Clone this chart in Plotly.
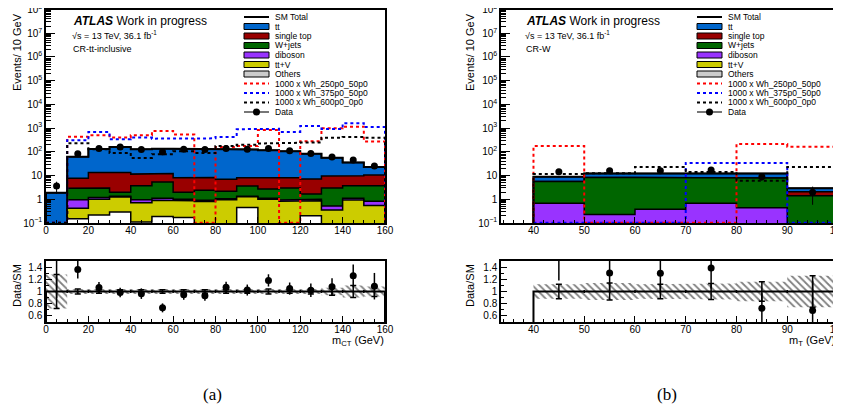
import plotly.graph_objects as go

# page is rendered with an 8px body margin; size the figure to fill the window
PAGE_W, PAGE_H, BODY_MARGIN = 841, 417, 8
W, H = PAGE_W - BODY_MARGIN, PAGE_H - BODY_MARGIN
FONT = "Liberation Sans"

# ---------------- Panel (a): CR-tt-inclusive, m_CT ----------------
edges_a = [0, 10, 20, 30, 40, 50, 60, 70, 80, 90, 100, 110, 120, 130, 140, 150, 160]
others_a = [0, 0.15, 0.22, 0.29, 0.11, 0.19, 0.17, 0, 0, 0.45, 0, 0, 0.2, 0, 0, 0]
ttv_a = [0, 0.27, 0.78, 0.96, 0.61, 0.71, 0.70, 0.8, 0.95, 0.83, 1.0, 0.82, 0.67, 0.35, 0.93, 0.55]
dib_a = [0, 0.53, 0.2, 0.1, 0.23, 0.2, 0.13, 0.1, 0.1, 0.05, 0.1, 0.11, 0.13, 0.17, 0.17, 0.27]
wjets_a = [0, 1.95, 1.8, 0.65, 2.75, 4.2, 1.0, 1.5, 1.15, 2.27, 1.6, 2.07, 0.65, 2.48, 2.6, 2.88]
stop_a = [0, 4.8, 10.5, 11.5, 7.8, 7.0, 6.0, 5.9, 4.8, 4.4, 4.9, 5.0, 5.55, 6.5, 6.1, 6.8]
ttbar_a = [1.9, 54, 117, 147, 117, 123, 127, 127, 123, 118, 110, 97, 76, 47, 26, 12.5]
data_a = [3.6, 84, 139, 158, 124, 99, 128, 126, 139, 129, 139, 110, 85, 61, 45, 25]
sig250_a = [0, 430, 500, 400, 500, 760, 540, 0, 160, 175, 830, 0, 280, 980, 1150, 270]
sig375_a = [0, 310, 690, 340, 400, 360, 360, 370, 427, 900, 930, 690, 1220, 920, 1600, 1120]
sig600_a = [0, 230, 130, 90, 55, 80, 105, 90, 175, 200, 225, 240, 250, 390, 420, 390]
mcerr_a = [0.28, 0.04, 0.03, 0.03, 0.03, 0.03, 0.03, 0.03, 0.03, 0.03, 0.04, 0.03, 0.04, 0.06, 0.10, 0.08]

# ---------------- Panel (b): CR-W, m_T ----------------
edges_b = [40, 50, 60, 70, 80, 90, 100]
others_b = [0, 0, 0, 0, 0, 0]
ttv_b = [0, 0, 0, 0, 0, 0]
dib_b = [0.68, 0.23, 0.38, 0.68, 0.44, 0]
wjets_b = [4.9, 8.0, 7.8, 7.5, 7.4, 1.4]
stop_b = [0, 0, 0, 0, 0, 0.7]
ttbar_b = [3.4, 3.9, 4.0, 4.1, 4.4, 0.8]
data_b = [14.4, 15.8, 15.8, 17.0, 8.9, 2.0]
sig250_b = [175, 0, 0, 0, 215, 165]
sig375_b = [0, 0, 0, 34, 34, 0]
sig600_b = [11.5, 12.5, 23, 14, 6, 23]
mcerr_b = [0.12, 0.14, 0.12, 0.13, 0.16, 0.26]

# ---------------- styling ----------------
C_TT = "#0066cc"
C_ST = "#990000"
C_W = "#006600"
C_DIB = "#9933ff"
C_TTV = "#cccc00"
C_OTH = "#cccccc"
C_OTH_STACK = "#ffffff"

FLOOR = 1e-3        # below the log axis: fills run off the bottom
SIG_FLOOR = 0.102   # empty signal bins drawn along the bottom edge, as ROOT does


def step_xy(edges, vals, floor):
    xs, ys = [edges[0]], [floor]
    for i, v in enumerate(vals):
        v = v if v > 0 else floor
        xs += [edges[i], edges[i + 1]]
        ys += [v, v]
    xs.append(edges[-1])
    ys.append(floor)
    return xs, ys


def cumsum(layers):
    out, run = [], [0.0] * len(layers[0])
    for lay in layers:
        run = [a + b for a, b in zip(run, lay)]
        out.append(run)
    return out


fig = go.Figure()


def add_panel(edges, layers, data, sigs, mcerr, xa, ya, xr, yr):
    colors = [C_OTH_STACK, C_TTV, C_DIB, C_W, C_ST, C_TT]
    cums = cumsum(layers)
    for cum, col in reversed(list(zip(cums, colors))):
        if max(cum) <= 0:
            continue
        xs, ys = step_xy(edges, cum, FLOOR)
        fig.add_trace(go.Scatter(x=xs, y=ys, mode="lines", fill="toself",
                                 fillcolor=col, line=dict(color="black", width=1.5),
                                 xaxis=xa, yaxis=ya, showlegend=False, hoverinfo="skip"))
    total = cums[-1]
    xs, ys = step_xy(edges, total, FLOOR)
    fig.add_trace(go.Scatter(x=xs, y=ys, mode="lines", line=dict(color="black", width=2),
                             xaxis=xa, yaxis=ya, showlegend=False, hoverinfo="skip"))
    for vals, col in zip(sigs, ["#ff0000", "#0000ff", "#000000"]):
        xs, ys = step_xy(edges, vals, SIG_FLOOR)
        fig.add_trace(go.Scatter(x=xs, y=ys, mode="lines",
                                 line=dict(color=col, width=2, dash="dot"),
                                 xaxis=xa, yaxis=ya, showlegend=False, hoverinfo="skip"))
    centers = [(edges[i] + edges[i + 1]) / 2 for i in range(len(data))]
    errs = [d ** 0.5 for d in data]
    fig.add_trace(go.Scatter(x=centers, y=data, mode="markers",
                             marker=dict(color="black", size=7),
                             error_y=dict(type="data", array=errs, color="black", thickness=1, width=0),
                             xaxis=xa, yaxis=ya, showlegend=False, hoverinfo="skip"))
    # ---- ratio ----
    up = [1 + e for e in mcerr]
    dn = [1 - e for e in mcerr]
    bx, by = [], []
    for i in range(len(up)):
        bx += [edges[i], edges[i + 1]]
        by += [up[i], up[i]]
    for i in reversed(range(len(dn))):
        bx += [edges[i + 1], edges[i]]
        by += [dn[i], dn[i]]
    fig.add_trace(go.Scatter(x=bx, y=by, mode="lines", fill="toself",
                             fillcolor="rgba(0,0,0,0)", line=dict(width=0),
                             fillpattern=dict(shape="\\", fgcolor="black", bgcolor="white",
                                              size=5, solidity=0.35),
                             xaxis=xr, yaxis=yr, showlegend=False, hoverinfo="skip"))
    ones = [1.0] * len(data)
    xs, ys = step_xy(edges, ones, 0.0)
    fig.add_trace(go.Scatter(x=xs, y=ys, mode="lines", line=dict(color="black", width=2),
                             xaxis=xr, yaxis=yr, showlegend=False, hoverinfo="skip"))
    fig.add_trace(go.Scatter(x=centers, y=ones, mode="markers", marker=dict(size=0.1, color="black"),
                             error_y=dict(type="data", array=mcerr, color="black", thickness=1.5, width=3),
                             xaxis=xr, yaxis=yr, showlegend=False, hoverinfo="skip"))
    fig.add_trace(go.Scatter(x=edges[1:-1], y=[1.0] * (len(edges) - 2), mode="markers",
                             marker=dict(size=0.1, color="black"),
                             error_y=dict(type="constant", value=0.025, color="black", thickness=1.5, width=0),
                             xaxis=xr, yaxis=yr, showlegend=False, hoverinfo="skip"))
    ratio = [d / t for d, t in zip(data, total)]
    rerr = [e / t for e, t in zip(errs, total)]
    fig.add_trace(go.Scatter(x=centers, y=ratio, mode="markers",
                             marker=dict(color="black", size=7),
                             error_y=dict(type="data", array=rerr, color="black", thickness=1.5, width=0),
                             xaxis=xr, yaxis=yr, showlegend=False, hoverinfo="skip"))


add_panel(edges_a, [others_a, ttv_a, dib_a, wjets_a, stop_a, ttbar_a], data_a,
          [sig250_a, sig375_a, sig600_a], mcerr_a, "x", "y", "x2", "y2")
add_panel(edges_b, [others_b, ttv_b, dib_b, wjets_b, stop_b, ttbar_b], data_b,
          [sig250_b, sig375_b, sig600_b], mcerr_b, "x3", "y3", "x4", "y4")


# ---------------- axes (positions given in window pixels) ----------------
def pxx(v):
    return (v - BODY_MARGIN) / W


def pxy(v):
    return 1 - (v - BODY_MARGIN) / H


dom_xa = [pxx(46), pxx(385)]
dom_xb = [pxx(501), pxx(838)]
dom_top = [pxy(223), pxy(9.5)]
dom_rat = [pxy(322), pxy(261)]

tickfont = dict(family=FONT, size=10, color="black")
base = dict(showline=True, linecolor="black", linewidth=1.5, mirror=True, ticks="inside",
            tickcolor="black", showgrid=False, zeroline=False, tickfont=tickfont, automargin=False,
            ticklabeloverflow="allow")

log_major = [10.0 ** k for k in range(-1, 9)]
log_text = ["10<sup>−1</sup>", "1", "10"] + ["10<sup>%d</sup>" % k for k in range(2, 9)]
log_minor = [m * 10.0 ** k for k in range(-1, 8) for m in range(2, 10)]

ylog = dict(base, type="log", range=[-1, 8], tickvals=log_major, ticktext=log_text, ticklen=9,
            minor=dict(tickvals=log_minor, ticks="inside", ticklen=5, tickcolor="black"))
yrat = dict(base, range=[0.5, 1.5], tickvals=[0.6, 0.8, 1.0, 1.2, 1.4],
            ticktext=["0.6", "0.8", "1", "1.2", "1.4"], ticklen=6,
            minor=dict(tickvals=[0.5, 0.7, 0.9, 1.1, 1.3, 1.5], ticks="inside", ticklen=3, tickcolor="black"))

xa_ticks = dict(tickvals=list(range(0, 161, 20)), ticklen=6, ticklabelstandoff=-3,
                minor=dict(tickvals=[v for v in range(0, 161, 5) if v % 20], ticks="inside", ticklen=3,
                           tickcolor="black"))
xb_ticks = dict(tickvals=list(range(40, 101, 10)), ticklen=6, ticklabelstandoff=-3,
                minor=dict(tickvals=[v for v in range(34, 101, 2) if v % 10], ticks="inside", ticklen=3,
                           tickcolor="black"))

fig.update_layout(
    width=W, height=H, margin=dict(l=0, r=0, t=0, b=0, autoexpand=False),
    paper_bgcolor="white", plot_bgcolor="white", showlegend=False,
    xaxis=dict(base, domain=dom_xa, range=[0, 160], anchor="y", **xa_ticks),
    yaxis=dict(ylog, domain=dom_top, anchor="x"),
    xaxis2=dict(base, domain=dom_xa, range=[0, 160], anchor="y2", **xa_ticks),
    yaxis2=dict(yrat, domain=dom_rat, anchor="x2"),
    xaxis3=dict(base, domain=dom_xb, range=[33.6, 100], anchor="y3", **xb_ticks),
    yaxis3=dict(ylog, domain=dom_top, anchor="x3"),
    xaxis4=dict(base, domain=dom_xb, range=[33.6, 100], anchor="y4", **xb_ticks),
    yaxis4=dict(yrat, domain=dom_rat, anchor="x4"),
)

ann = []
shapes = []


def text(x, y, s, size, xanchor="left", angle=0, family=FONT):
    ann.append(dict(x=pxx(x), y=pxy(y), xref="paper", yref="paper", text=s, showarrow=False,
                    xanchor=xanchor, yanchor="middle", textangle=angle, borderpad=0,
                    font=dict(family=family, size=size, color="black")))


for off, region in [(0, "CR-tt-inclusive"), (453, "CR-W")]:
    text(72 + off, 21, "<b><i>ATLAS</i></b> Work in progress", 12)
    text(71 + off, 35, "√s = 13 TeV, 36.1 fb<sup>-1</sup>", 9)
    text(72 + off, 49, region, 9)
    text(17 + off, 52, "Events/ 10 GeV", 11, xanchor="center", angle=-90)
    text(17 + off, 286, "Data/SM", 11, xanchor="center", angle=-90)

text(385, 341, "m<sub>CT</sub> (GeV)", 11, xanchor="right")
text(836, 341, "m<sub>T</sub> (GeV)", 11, xanchor="right")
text(212, 394, "(a)", 17, xanchor="center", family="Liberation Serif")
text(667, 394, "(b)", 17, xanchor="center", family="Liberation Serif")

# ---------------- legends ----------------
leg_labels = ["SM Total", "tt", "single top", "W+jets", "diboson", "tt+V", "Others",
              "1000 x Wh_250p0_50p0", "1000 x Wh_375p0_50p0", "1000 x Wh_600p0_0p0", "Data"]
leg_kinds = ["line", "box", "box", "box", "box", "box", "box", "dot", "dot", "dot", "data"]
leg_colors = ["black", C_TT, C_ST, C_W, C_DIB, C_TTV, C_OTH, "#ff0000", "#0000ff", "black", "#777777"]
LEG_TOP, LEG_STEP = 17, 9.5

for x0 in (244, 697):
    for i, (lab, kind, col) in enumerate(zip(leg_labels, leg_kinds, leg_colors)):
        cy = LEG_TOP + i * LEG_STEP
        if kind == "box":
            shapes.append(dict(type="rect", xref="paper", yref="paper", x0=pxx(x0), x1=pxx(x0 + 25),
                               y0=pxy(cy + 3), y1=pxy(cy - 3), fillcolor=col,
                               line=dict(color="black", width=1)))
        else:
            shapes.append(dict(type="line", xref="paper", yref="paper", x0=pxx(x0), x1=pxx(x0 + 25),
                               y0=pxy(cy), y1=pxy(cy),
                               line=dict(color=col, width=2, dash="dot" if kind == "dot" else "solid")))
            if kind == "data":
                shapes.append(dict(type="circle", xref="paper", yref="paper",
                                   x0=pxx(x0 + 9), x1=pxx(x0 + 16), y0=pxy(cy + 3.5), y1=pxy(cy - 3.5),
                                   fillcolor="black", line=dict(color="black", width=0)))
        text(x0 + 30, cy, lab, 8.5)

fig.update_layout(annotations=ann, shapes=shapes)
fig.write_html("out.html")
